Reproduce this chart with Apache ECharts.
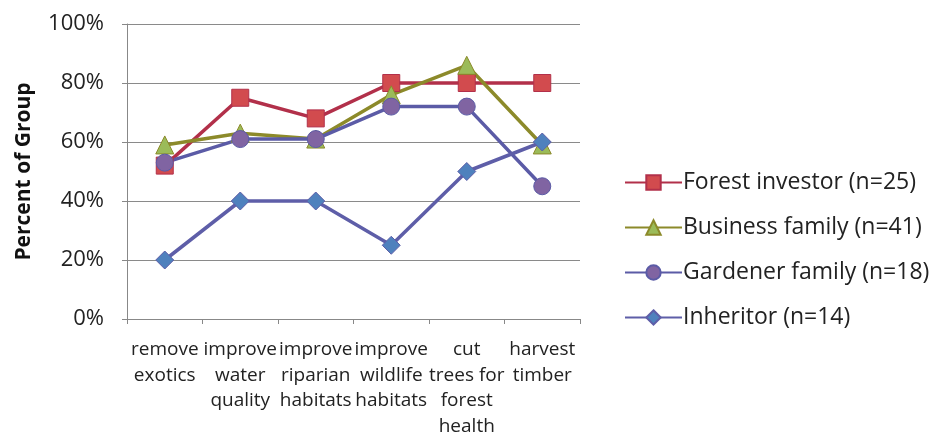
<!DOCTYPE html>
<html><head><meta charset="utf-8">
<script src="https://cdn.jsdelivr.net/npm/echarts@6/dist/echarts.min.js"></script>
<style>html,body{margin:0;padding:0;background:#fff;}#c{width:931px;height:433px;}</style>
</head><body><div id="c"></div>
<script>
var categories = ["remove\nexotics", "improve\nwater\nquality", "improve\nriparian\nhabitats", "improve\nwildlife\nhabitats", "cut\ntrees for\nforest\nhealth", "harvest\ntimber"];
var forestInvestor = [52, 75, 68, 80, 80, 80];
var businessFamily = [59, 63, 61, 76, 86, 59];
var gardenerFamily = [53, 61, 61, 72, 72, 45];
var inheritor = [20, 40, 40, 25, 50, 60];
var seriesNames = ["Forest investor (n=25)", "Business family (n=41)", "Gardener family (n=18)", "Inheritor (n=14)"];
var yTicks = [0, 20, 40, 60, 80, 100];

var font = "'Open Sans', 'Liberation Sans', Arial, sans-serif";
var chart = echarts.init(document.getElementById('c'));
function mk(name, data, lineColor, fill, symbol, size) {
  return {
    name: name, type: 'line', data: data, symbol: symbol, symbolSize: size,
    lineStyle: {color: lineColor, width: 3.5},
    itemStyle: {color: fill, borderColor: lineColor, borderWidth: 1},
    emphasis: {disabled: true}, animation: false
  };
}
chart.setOption({
  animation: false,
  backgroundColor: '#fff',
  grid: {left: 127, right: 351, top: 24, bottom: 114, containLabel: false, outerBoundsMode: 'none'},
  legend: {
    orient: 'vertical', left: 619, top: 166, itemWidth: 57, itemHeight: 18, itemGap: 22,
    textStyle: {fontFamily: font, fontSize: 23, color: '#222', padding: [0, 0, 0, -4]},
    data: seriesNames
  },
  xAxis: {
    type: 'category', data: categories, boundaryGap: true,
    axisLine: {lineStyle: {color: '#888', width: 1}},
    axisTick: {show: true, alignWithLabel: false, length: 5, lineStyle: {color: '#888'}},
    axisLabel: {interval: 0, fontFamily: font, fontSize: 19, color: '#222', lineHeight: 25.5, margin: 18}
  },
  yAxis: {
    type: 'value', min: 0, max: 100, interval: 20,
    name: 'Percent of Group', nameLocation: 'middle', nameGap: 92, nameRotate: 90,
    nameTextStyle: {fontFamily: font, fontSize: 21, fontWeight: 'bold', color: '#111'},
    axisLine: {show: true, lineStyle: {color: '#888', width: 1}},
    axisTick: {show: true, length: 5, lineStyle: {color: '#888'}},
    splitLine: {lineStyle: {color: '#8a8a8a', width: 1}},
    axisLabel: {fontFamily: font, fontSize: 22, color: '#222', margin: 23,
      formatter: function (v) { return yTicks.indexOf(v) >= 0 ? v + '%' : ''; }}
  },
  series: [
    mk(seriesNames[0], forestInvestor, '#B2304A', '#D24B4E', 'rect', 17),
    mk(seriesNames[1], businessFamily, '#8C8A2A', '#9BBB59', 'triangle', 18),
    mk(seriesNames[2], gardenerFamily, '#5B5BA6', '#8064A2', 'circle', 17),
    mk(seriesNames[3], inheritor, '#5E5EA8', '#4F81BD', 'diamond', 18)
  ]
});
</script></body></html>
